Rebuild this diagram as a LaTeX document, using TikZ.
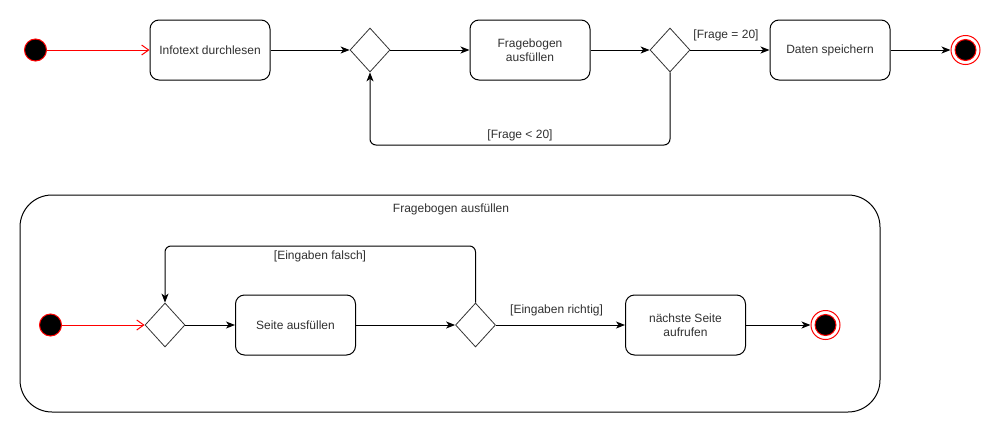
\documentclass[tikz,border=0pt]{standalone}
\usepackage{fontspec}
\setmainfont{Liberation Sans}
\usetikzlibrary{shapes.geometric,arrows.meta,positioning,calc}
\definecolor{txt}{HTML}{303030}
\definecolor{umlred}{HTML}{FF0000}
\tikzset{
  every node/.style={font=\fontsize{12}{14}\selectfont, text=txt},
  act/.style={draw=black, line width=1pt, rounded corners=9pt, minimum width=120pt, minimum height=60pt, align=center, inner sep=2pt},
  decis/.style={draw=black!80, line width=0.8pt, diamond, minimum width=40pt, minimum height=44pt, inner sep=0pt},
  startnode/.style={circle, fill=black, draw=umlred, line width=1pt, minimum size=22pt, inner sep=0pt},
  endouter/.style={circle, draw=umlred, line width=1pt, minimum size=29pt, inner sep=0pt},
  endinner/.style={circle, fill=black, draw=umlred, line width=1pt, minimum size=21pt, inner sep=0pt},
  flow/.style={draw=black, line width=1pt, -{Stealth[length=9pt,width=7pt,inset=2.5pt]}},
  redflow/.style={draw=umlred, line width=1pt, -{Straight Barb[length=7pt,width=10pt,line width=1pt]}},
  guard/.style={inner sep=0pt},
}
\begin{document}
\begin{tikzpicture}[x=1pt,y=-1pt]
\useasboundingbox (0,0) rectangle (1001,434);
% top row
\node[startnode] (s1) at (35.5,50) {};
\node[act] (a1) at (210,50) {Infotext durchlesen};
\node[decis] (d1) at (370,50) {};
\node[act] (a2) at (530,50) {Fragebogen\\ausfüllen};
\node[decis] (d2) at (670,50) {};
\node[act] (a3) at (830,50) {Daten speichern};
\node[endouter] (f1) at (965.5,50) {};
\node[endinner] (f1i) at (f1) {};

\draw[redflow] (s1) -- (a1);
\draw[flow] (a1) -- (d1);
\draw[flow] (d1) -- (a2);
\draw[flow] (a2) -- (d2);
\draw[flow] (d2) -- node[guard, above=9pt, pos=0.45] {[Frage = 20]} (a3);
\draw[flow] (a3) -- (f1);
\coordinate (lb) at (520,145);
\draw[flow, rounded corners=6pt] (d2.south) |- (lb) -| (d1.south);
\node[guard] (g2) at (520,135) {[Frage < 20]};

% container
\node[draw=black, line width=1pt, rounded corners=32pt, minimum width=860pt, minimum height=217pt, inner sep=0pt] (box) at (450,303.5) {};
\node (title) at (451,209) {Fragebogen ausfüllen};

\node[startnode] (s2) at (50.5,325) {};
\node[decis] (d3) at (165,325) {};
\node[act] (b1) at (295.5,325) {Seite ausfüllen};
\node[decis] (d4) at (475.5,325) {};
\node[act] (b2) at (685.5,325) {nächste Seite\\aufrufen};
\node[endouter] (f2) at (825.5,325) {};
\node[endinner] (f2i) at (f2) {};

\draw[redflow] (s2) -- (d3);
\draw[flow] (d3) -- (b1);
\draw[flow] (b1) -- (d4);
\draw[flow] (d4) -- node[guard, above=9pt, pos=0.47] {[Eingaben richtig]} (b2);
\draw[flow] (b2) -- (f2);
\coordinate (lt) at (320,246);
\draw[flow, rounded corners=6pt] (d4.north) |- (lt) -| (d3.north);
\node[guard] (g4) at (320,256.5) {[Eingaben falsch]};
\end{tikzpicture}
\end{document}
